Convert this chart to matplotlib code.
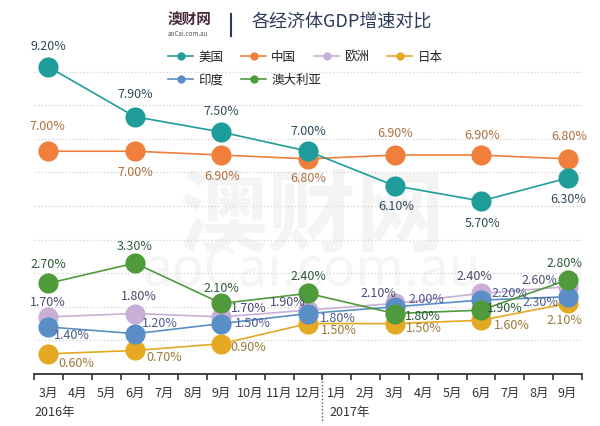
import numpy as np
import matplotlib
matplotlib.use('Agg')
import matplotlib.pyplot as plt
import matplotlib.transforms as mtransforms
from matplotlib.lines import Line2D

plt.rcParams['font.family'] = ['Noto Sans CJK SC', 'DejaVu Sans']

months = ['3月', '4月', '5月', '6月', '7月', '8月', '9月', '10月', '11月', '12月',
          '1月', '2月', '3月', '4月', '5月', '6月', '7月', '8月', '9月']
quarter_idx = [0, 3, 6, 9, 12, 15, 18]

us = [9.2, 7.9, 7.5, 7.0, 6.1, 5.7, 6.3]
china = [7.0, 7.0, 6.9, 6.8, 6.9, 6.9, 6.8]
europe = [1.7, 1.8, 1.7, 1.9, 2.1, 2.4, 2.6]
japan = [0.6, 0.7, 0.9, 1.5, 1.5, 1.6, 2.1]
india = [1.4, 1.2, 1.5, 1.8, 2.0, 2.2, 2.3]
australia = [2.7, 3.3, 2.1, 2.4, 1.8, 1.9, 2.8]

# label offsets in pixels (dx, dy down)
off_us = [(0, -20), (0, -22), (0, -21), (0, -20), (2, 21), (1, 22), (1, 21)]
off_china = [(-1, -25), (0, 21), (1, 21), (0, 20), (1, -22), (1, -20), (2, -22)]
off_aus = [(0, -19), (0, -17), (0, -15), (0, -17), (28, 3), (24, -2), (-3, -16)]
off_eu = [(-1, -14), (4, -17), (27, -8), (-20, -8), (-16, -10), (-7, -17), (-28, -6)]
off_india = [(23, 9), (25, -10), (31, 0), (30, 5), (32, -7), (28, -7), (-27, 6)]
off_japan = [(28, 10), (29, 7), (27, 4), (31, 7), (29, 5), (31, 5), (-3, 17)]

fig = plt.figure(figsize=(6, 4.26), dpi=100)
fig.patch.set_facecolor('white')

# watermark
fig.text(312 / 600, 1 - 218 / 426, '澳财网', fontsize=64, fontweight='bold',
         color='#f4f4f4', ha='center', va='center', zorder=-5)
fig.text(312 / 600, 1 - 270 / 426, 'aoCai.com.au', fontsize=38,
         color='#f5f5f5', ha='center', va='center', zorder=-5)

ax = fig.add_axes([34 / 600, 1 - 374 / 426, 548 / 600, 334 / 426])
ax.patch.set_visible(False)
ax.set_xlim(-0.5, 18.5)
ax.set_ylim(0, 9.94)
ax.set_yticks(range(1, 10))
ax.yaxis.grid(True, linestyle=(0, (1, 1.5)), color='#d9d9d9', lw=1)
ax.tick_params(axis='y', length=0, labelleft=False)
for s in ['top', 'left', 'right']:
    ax.spines[s].set_visible(False)
ax.spines['bottom'].set_color('#333333')
ax.spines['bottom'].set_linewidth(1.3)
ax.set_xticks(np.arange(-0.5, 19, 1))
ax.set_xticklabels([])
ax.tick_params(axis='x', which='major', direction='out', length=4, width=1.2, color='#333333')
ax.set_xticks(range(19), minor=True)
ax.set_xticklabels(months, minor=True)
ax.tick_params(axis='x', which='minor', length=0, pad=9, labelsize=9, labelcolor='#333333')

trans = mtransforms.blended_transform_factory(ax.transData, ax.transAxes)
ax.plot([9.5, 9.5], [0, -0.14], transform=trans, clip_on=False, ls=(0, (1, 1.5)),
        color='#555555', lw=1)
ax.text(-0.5, -0.115, '2016年', transform=trans, fontsize=9, color='#333333',
        ha='left', va='center')
ax.text(9.75, -0.115, '2017年', transform=trans, fontsize=9, color='#333333',
        ha='left', va='center')

# upper panel (US/China) uses its own scale, as in the original infographic
ax2 = ax.twinx()
ax2.set_ylim((0 + 1.35) / 1.14, (9.94 + 1.35) / 1.14)
ax2.axis('off')


def draw(a, vals, color, tcolor, offs, z):
    a.plot(quarter_idx, vals, color=color, lw=1.2, marker='o', ms=14.5,
           markeredgewidth=0, zorder=z)
    for x, v, (dx, dy) in zip(quarter_idx, vals, offs):
        a.annotate('%.2f%%' % v, (x, v), xytext=(dx * 0.72, -dy * 0.72),
                   textcoords='offset points', ha='center', va='center',
                   fontsize=9, color=tcolor, zorder=10)


c_us, c_cn, c_eu, c_jp, c_in, c_au = '#1f9d9b', '#ef7f3a', '#c7afd6', '#e5a822', '#5a8ec6', '#4f9a3b'

draw(ax, japan, c_jp, '#9a7838', off_japan, 3)
draw(ax, europe, c_eu, '#4a4a70', off_eu, 4)
draw(ax, india, c_in, '#4a5a8a', off_india, 5)
draw(ax, australia, c_au, '#2e5a3a', off_aus, 6)
draw(ax2, china, c_cn, '#b07040', off_china, 3)
draw(ax2, us, c_us, '#2e4a58', off_us, 4)

# title
fig.text(168 / 600, 1 - 20 / 426, '澳财网', fontsize=10.5, fontweight='bold',
         color='#4a2c3c', ha='left', va='center')
fig.text(168 / 600, 1 - 34 / 426, 'aoCai.com.au', fontsize=4.5,
         color='#555555', ha='left', va='center')
fig.add_artist(Line2D([231 / 600, 231 / 600], [1 - 14 / 426, 1 - 36 / 426],
                      color='#2d3a5a', lw=1.5))
fig.text(252 / 600, 1 - 22 / 426, '各经济体GDP增速对比', fontsize=13,
         color='#2d3a5a', ha='left', va='center')


def h(c):
    return Line2D([], [], color=c, lw=1.2, marker='o', ms=6, markeredgewidth=0)


leg_kw = dict(loc='center left', frameon=False, fontsize=9, handlelength=2.0,
              handletextpad=0.4, columnspacing=1.45, borderpad=0, borderaxespad=0,
              labelcolor='#222222')
fig.legend([h(c_us), h(c_cn), h(c_eu), h(c_jp)], ['美国', '中国', '欧洲', '日本'],
           bbox_to_anchor=(168 / 600, 1 - 57 / 426), ncol=4, **leg_kw)
fig.legend([h(c_in), h(c_au)], ['印度', '澳大利亚'],
           bbox_to_anchor=(168 / 600, 1 - 80 / 426), ncol=2, **leg_kw)

fig.savefig('out.png', dpi=100, facecolor='white')
